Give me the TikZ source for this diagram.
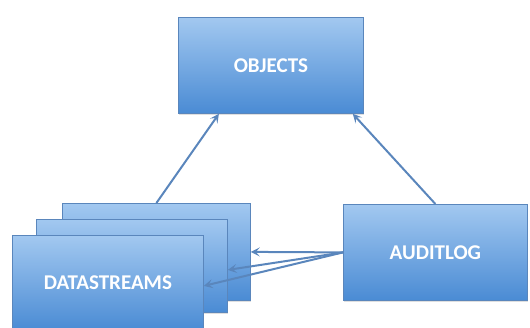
\documentclass[tikz,border=0pt]{standalone}
\usepackage{fontspec}
\setmainfont{Carlito}
\usetikzlibrary{shadows,arrows.meta,calc}
\definecolor{boxtop}{HTML}{A2C8F0}
\definecolor{boxbot}{HTML}{4A8BD4}
\definecolor{boxedge}{HTML}{5A86BC}
\definecolor{arrowc}{HTML}{5A86BC}
\begin{document}
\begin{tikzpicture}[x=1pt,y=-1pt,
  box/.style={draw=boxedge, line width=0.8pt, top color=boxtop, bottom color=boxbot,
    text=white, font=\bfseries\fontsize{21}{24}\selectfont, inner sep=0pt, anchor=north west,
    drop shadow={opacity=0.25, shadow xshift=1pt, shadow yshift=-2pt}},
  conn/.style={draw=arrowc, line width=2pt, -{Stealth[length=9pt,width=9pt,inset=4pt]}}]
\useasboundingbox (0,0) rectangle (530,327);
\node[box, minimum width=185pt, minimum height=96pt] (obj) at (178,17) {OBJECTS};
\node[box, minimum width=184pt, minimum height=96pt] (audit) at (343,204) {AUDITLOG};
\node[box, minimum width=188pt, minimum height=97pt] (ds3) at (62,203) {};
\node[box, minimum width=191pt, minimum height=93pt] (ds2) at (36,219) {};
\node[box, minimum width=191pt, minimum height=95pt] (ds1) at (12,235) {DATASTREAMS};
\draw[conn] (ds3.north) -- ($(obj.south west)!0.22!(obj.south east)$);
\draw[conn] (audit.north) -- ($(obj.south east)+(-11,0)$);
\draw[conn] (audit.west) -- (ds3.east);
\draw[conn] (audit.west) -- ($(ds2.east)+(0,4)$);
\draw[conn] (audit.west) -- ($(ds1.east)+(0,3)$);
\end{tikzpicture}
\end{document}
